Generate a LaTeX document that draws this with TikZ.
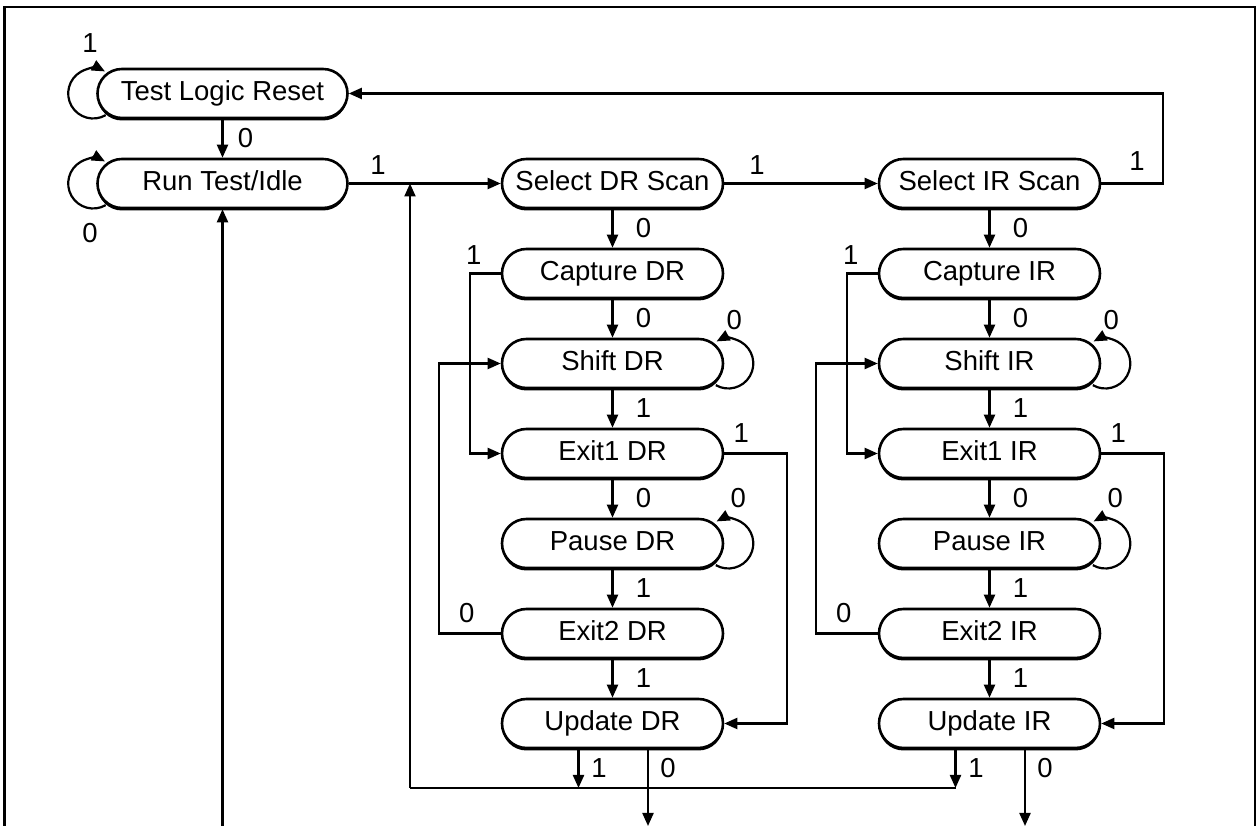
\documentclass[tikz,border=0pt]{standalone}
\usepackage{fontspec}
\setmainfont{Liberation Sans}
\usetikzlibrary{arrows.meta,shapes.misc,shadows}
\begin{document}
\begin{tikzpicture}[x=1pt,y=1pt,
  font=\fontsize{27.5}{31}\selectfont,
  st/.style={rounded rectangle, draw, line width=2.6pt, fill=white,
    minimum height=49pt, minimum width=221pt, inner sep=0pt,
    text height=20pt, text depth=5pt,
    drop shadow={shadow xshift=0pt,shadow yshift=-2.5pt,fill=black,opacity=1}},
  conn/.style={line width=2.2pt, -{Triangle[length=13pt,width=11pt]}},
  wire/.style={line width=2.2pt},
  lbl/.style={inner sep=0pt}
]
\useasboundingbox (0,0) rectangle (1258,826);
\draw[line width=2.6pt] (4.5,0) -- (4.5,819) -- (1255,819) -- (1255,0);

\node[st, minimum width=250pt] (tlr) at (222.5,732.5) {Test Logic Reset};
\node[st, minimum width=250pt] (rti) at (222.5,642.5) {Run Test/Idle};

\foreach \c/\x/\n in {d/612.5/DR, i/989.5/IR}{
  \node[st] (s\c) at (\x,642.5) {Select \n\ Scan};
  \node[st] (c\c) at (\x,552.5) {Capture \n};
  \node[st] (sh\c) at (\x,462.5) {Shift \n};
  \node[st] (ea\c) at (\x,372.5) {Exit1 \n};
  \node[st] (p\c) at (\x,282.5) {Pause \n};
  \node[st] (eb\c) at (\x,192.5) {Exit2 \n};
  \node[st] (u\c) at (\x,102.5) {Update \n};
  \draw[conn] (s\c.south) -- (c\c.north);
  \draw[conn] (c\c.south) -- (sh\c.north);
  \draw[conn] (sh\c.south) -- (ea\c.north);
  \draw[conn] (ea\c.south) -- (p\c.north);
  \draw[conn] (p\c.south) -- (eb\c.north);
  \draw[conn] (eb\c.south) -- (u\c.north);
  \draw[conn] (c\c.west) -- ++(-31,0) |- (ea\c.west);
  \draw[conn] (eb\c.west) -- ++(-62,0) |- (sh\c.west);
  \draw[conn] (ea\c.east) -- ++(63,0) |- (u\c.east);
  \draw[conn] ([shift={(-8.5,-21.65)}]sh\c.east) arc[start angle=-120,end angle=118,radius=25];
  \draw[conn] ([shift={(-8.5,-21.65)}]p\c.east) arc[start angle=-120,end angle=118,radius=25];
  \node[lbl] (la\c) at ([xshift=31]s\c.south |- 0,597.5) {0};
  \node[lbl] (lb\c) at ([xshift=31]s\c.south |- 0,507.5) {0};
  \node[lbl] (lc\c) at ([xshift=31]s\c.south |- 0,417.5) {1};
  \node[lbl] (ld\c) at ([xshift=31]s\c.south |- 0,327.5) {0};
  \node[lbl] (le\c) at ([xshift=31]s\c.south |- 0,237.5) {1};
  \node[lbl] (lf\c) at ([xshift=31]s\c.south |- 0,147.5) {1};
  \node[lbl] (lg\c) at ([shift={(-27,18)}]c\c.west) {1};
  \node[lbl] (lh\c) at ([shift={(-34,20.5)}]eb\c.west) {0};
  \node[lbl] (li\c) at ([shift={(17,20.5)}]ea\c.east) {1};
  \node[lbl] (lj\c) at ([shift={(10,43.5)}]sh\c.east) {0};
  \node[lbl] (lk\c) at ([shift={(14,45.5)}]p\c.east) {0};
  \node[lbl] (ll\c) at ([xshift=-13.5]u\c.south |- 0,58) {1};
  \node[lbl] (lm\c) at ([xshift=55.5]u\c.south |- 0,58) {0};
  \coordinate (j\c) at ([xshift=-34]u\c.south |- 0,38);
  \coordinate (o\c) at ([xshift=35.5]u\c.south |- 0,0);
  \draw[conn] (u\c.south -| j\c) -- (j\c);
  \draw[conn] (u\c.south -| o\c) -- (o\c);
}

% top row
\draw[conn] (tlr.south) -- (rti.north);
\draw[conn] (rti.east) -- (sd.west);
\draw[conn] (sd.east) -- (si.west);
\draw[conn] (si.east) -- ++(62,0) |- (tlr.east);

% self loops on the left
\draw[conn] ([shift={(9.5,-21.65)}]tlr.west) arc[start angle=300,end angle=62,radius=25];
\draw[conn] ([shift={(9.5,-21.65)}]rti.west) arc[start angle=300,end angle=62,radius=25];

% return paths
\coordinate (jb) at (410,38);
\draw[wire] (ji) -- (jb);
\draw[conn] (jb) -- (jb |- rti.east);
\coordinate (rb) at (222.5,0);
\draw[conn] (rb) -- (rti.south);

% labels
\node[lbl] (t1) at (90,783) {1};
\node[lbl] (t2) at (245.5,687.5) {0};
\node[lbl] (t3) at (90,593) {0};
\node[lbl] (t4) at (378,661) {1};
\node[lbl] (t5) at (757,661) {1};
\node[lbl] (t6) at (1137,665) {1};
\end{tikzpicture}
\end{document}
